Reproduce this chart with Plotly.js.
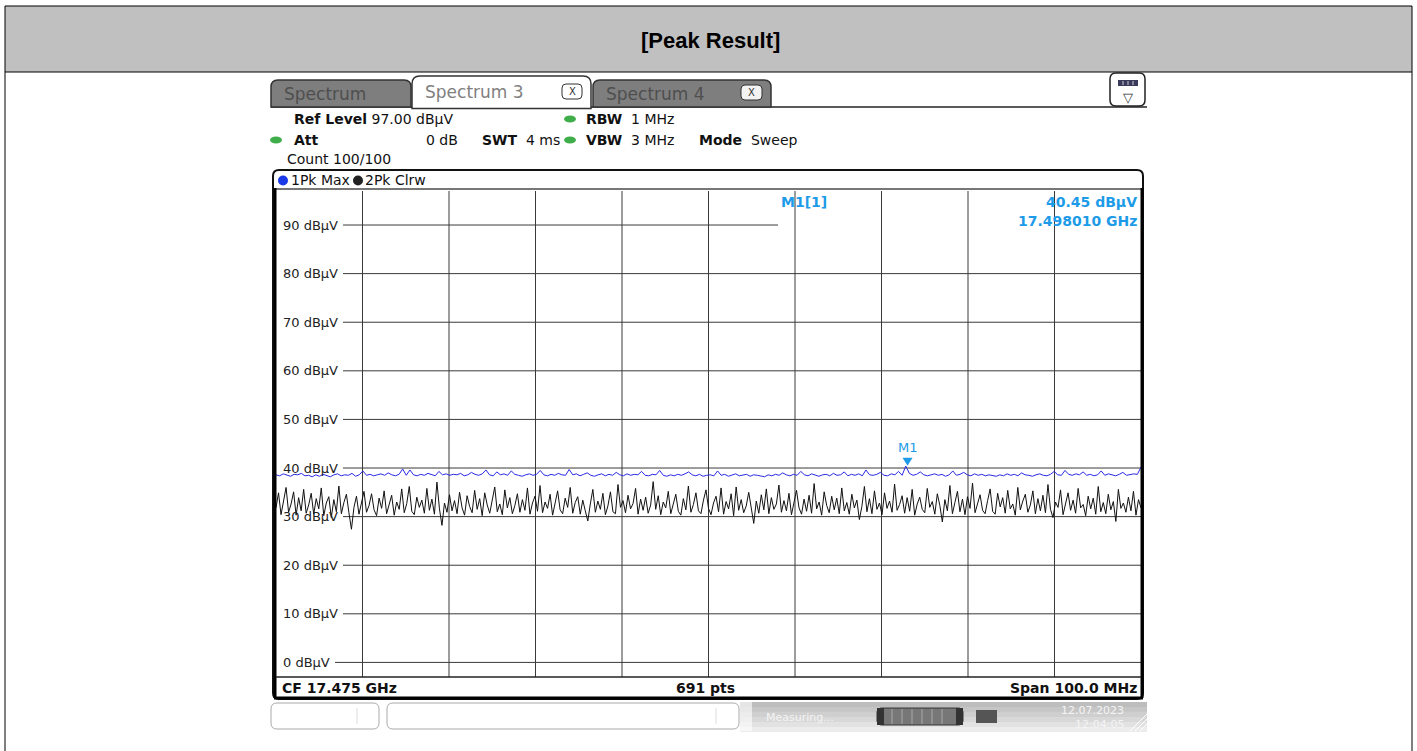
<!DOCTYPE html>
<html><head><meta charset="utf-8">
<script src="https://cdn.plot.ly/plotly-3.0.1.min.js"></script>
<style>html,body{margin:0;padding:0;background:#fff;overflow:hidden}#chart{width:1417px;height:751px}</style>
</head><body><div id="chart"></div>
<script>
// ---------------- data ----------------
const centerFreqGHz = 17.475;
const spanGHz = 0.1;
const refLevel = 97;
const bottomLevel = -3;
const levelTicks = [90, 80, 70, 60, 50, 40, 30, 20, 10, 0];
const levelTickLabels = ['90 dBµV','80 dBµV','70 dBµV','60 dBµV','50 dBµV','40 dBµV','30 dBµV','20 dBµV','10 dBµV','0 dBµV'];
const freqGridGHz = [17.435, 17.445, 17.455, 17.465, 17.475, 17.485, 17.495, 17.505, 17.515];
const markerFreqGHz = 17.498010;
const markerLevel = 40.45;

// Trace 1: 1Pk Max (blue)
const trace1PkMax = [
38.6,38.4,38.8,38.5,38.3,38.7,38.6,38.9,38.4,38.5,38.2,38.6,38.3,38.7,38.5,38.2,38.6,38.8,38.4,38.6,
38.5,38.9,38.3,38.6,39.4,38.5,38.7,38.4,38.6,38.8,38.5,39.0,38.6,38.4,38.7,39.8,38.5,39.6,38.6,38.4,
38.7,38.5,38.9,38.6,38.4,39.3,38.6,38.8,38.5,38.7,38.6,38.9,38.4,38.6,39.1,38.7,38.5,38.8,39.6,38.6,
38.4,39.2,38.6,38.8,38.5,39.4,38.7,38.5,38.3,38.6,38.8,38.5,38.7,39.5,38.6,38.4,38.7,38.5,38.9,38.6,
38.5,39.7,38.6,38.8,38.4,38.7,39.0,38.5,38.3,38.6,38.8,38.4,38.7,38.5,39.1,38.6,38.4,38.8,38.5,38.7,
38.6,39.3,38.5,38.4,38.7,38.6,39.5,38.5,38.3,38.6,38.4,38.7,38.5,38.8,39.2,38.6,38.4,38.7,38.3,38.5,
38.6,38.4,39.4,38.5,38.7,38.3,38.6,38.8,38.4,38.5,38.7,38.3,38.6,38.5,38.4,38.2,38.6,38.4,38.7,38.5,
39.0,38.6,38.4,38.7,38.5,39.3,38.6,38.4,38.8,38.5,38.3,38.6,38.7,38.4,38.9,38.5,38.6,39.2,38.4,38.7,
38.5,38.8,38.4,39.6,38.6,38.5,38.7,39.1,38.5,38.4,38.8,38.6,39.3,38.5,40.4,38.9,38.5,38.7,39.2,38.6,
38.4,38.6,38.8,38.5,38.7,38.3,38.6,39.4,38.5,38.7,39.1,38.6,38.4,38.8,38.5,38.7,38.4,38.6,38.5,38.3,
38.6,38.4,38.8,38.5,38.7,38.4,39.0,38.6,38.5,38.3,38.6,38.8,38.5,38.4,38.7,39.3,38.6,38.5,39.5,38.7,
38.5,38.8,38.6,39.2,38.5,38.7,38.4,38.6,39.4,38.5,38.8,38.6,38.4,38.7,39.1,38.5,38.6,38.8,38.7,40.2
];
// Trace 2: 2Pk Clrw (black)
const trace2PkClrw = [
31.8,34.9,30.4,33.2,36.0,30.9,32.6,35.1,30.3,33.9,31.2,35.6,30.7,32.4,34.8,
30.5,33.7,31.6,35.9,30.2,32.8,34.1,29.8,33.5,31.0,36.3,30.6,32.9,34.6,30.8,
27.4,31.9,34.2,30.5,33.1,35.2,30.9,32.3,34.7,31.4,30.2,33.8,31.7,35.3,30.6,
32.5,34.4,30.3,33.0,31.5,35.7,30.8,32.7,36.2,31.1,30.4,34.0,31.9,33.4,30.7,
35.8,31.3,33.6,30.5,37.1,31.6,28.2,32.8,30.9,34.5,31.2,33.3,30.6,35.0,31.8,
30.3,34.3,32.1,30.8,35.4,31.5,33.7,30.2,34.9,32.4,30.7,33.1,36.1,31.0,32.6,
30.4,35.5,31.8,33.9,30.6,32.3,34.7,30.9,33.5,31.3,35.9,30.5,32.8,34.2,31.1,
36.4,30.8,33.0,31.7,34.6,30.3,32.5,35.3,31.4,30.6,33.8,31.9,36.0,30.7,32.9,
34.1,30.5,33.4,31.2,29.1,32.6,35.6,30.9,33.2,31.5,34.8,30.4,32.2,35.1,31.0,
30.6,36.6,31.9,33.3,30.8,34.4,31.6,32.7,35.8,30.5,33.6,31.3,34.0,30.7,32.4,
37.2,31.5,34.3,30.4,33.0,31.8,35.2,30.6,32.9,34.6,31.1,30.3,33.7,31.4,36.3,
30.9,32.5,34.9,31.2,30.6,33.4,35.5,31.7,30.4,32.8,34.2,31.0,35.9,30.5,33.1,
31.6,34.7,30.2,36.1,31.3,33.5,30.8,32.2,35.0,31.9,28.6,33.2,30.7,34.5,31.4,
35.7,30.6,33.9,31.5,32.6,36.5,30.9,33.3,31.2,34.8,30.4,32.7,35.4,31.8,30.5,
33.6,31.1,34.4,30.7,36.8,31.6,33.0,30.3,35.1,32.3,30.8,34.2,31.4,33.8,30.6,
35.9,31.2,32.9,30.5,34.6,31.8,33.4,29.4,32.1,36.2,31.0,33.7,30.6,35.3,31.5,
32.8,30.4,34.9,31.7,33.2,30.9,36.7,31.3,32.5,34.3,30.7,33.9,31.1,35.6,30.3,
32.6,34.0,31.5,30.8,35.8,31.9,33.1,30.5,34.7,32.3,28.9,33.5,31.2,36.4,30.6,
32.9,35.2,31.0,33.6,30.4,34.1,31.7,36.9,30.8,32.7,34.5,31.3,30.6,33.3,35.7,
31.1,30.5,34.8,32.0,33.9,30.7,35.4,31.6,32.6,30.3,36.0,31.4,33.2,34.6,30.9,
32.4,35.3,30.6,33.7,31.2,34.4,30.8,36.6,31.5,29.8,33.0,31.9,35.5,30.4,32.8,
34.9,31.3,33.4,30.7,35.8,31.8,32.5,30.2,34.2,31.6,33.8,30.5,36.2,31.0,32.9,
30.6,34.6,31.4,33.1,29.0,35.6,31.7,32.8,30.9,34.0,31.2,35.2,30.3,33.5,31.8
];

// ---------------- layout helpers ----------------
const W = 1417, H = 751;
const X = p => p / W;
const Y = p => 1 - p / H;
const FONT = 'DejaVu Sans, Verdana, sans-serif';
const startF = centerFreqGHz - spanGHz / 2, stopF = centerFreqGHz + spanGHz / 2;
const freqs = n => Array.from({length: n}, (_, i) => startF + i * spanGHz / (n - 1));

const shapes = [];
const ann = [];
function rect(x0, y0, x1, y1, fill, line, lw, layer) {
  shapes.push({type: 'rect', xref: 'paper', yref: 'paper', x0: X(x0), x1: X(x1), y0: Y(y1), y1: Y(y0),
    fillcolor: fill || 'rgba(0,0,0,0)', line: {color: line || 'rgba(0,0,0,0)', width: lw || 0}, layer: layer || 'above'});
}
function line(x0, y0, x1, y1, color, lw, layer) {
  shapes.push({type: 'line', xref: 'paper', yref: 'paper', x0: X(x0), x1: X(x1), y0: Y(y0), y1: Y(y1),
    line: {color: color, width: lw}, layer: layer || 'above'});
}
function circ(cx, cy, rx, ry, fill) {
  shapes.push({type: 'circle', xref: 'paper', yref: 'paper', x0: X(cx - rx), x1: X(cx + rx), y0: Y(cy + ry), y1: Y(cy - ry),
    fillcolor: fill, line: {width: 0}, layer: 'above'});
}
function P(x, y) { return X(x) + ',' + Y(y); }
function rrect(x0, y0, x1, y1, r, fill, lc, lw, topOnly) {
  let d;
  if (topOnly) {
    d = 'M' + P(x0, y1) + ' L' + P(x0, y0 + r) + ' Q' + P(x0, y0) + ' ' + P(x0 + r, y0) + ' L' + P(x1 - r, y0) +
        ' Q' + P(x1, y0) + ' ' + P(x1, y0 + r) + ' L' + P(x1, y1);
    if (fill) d += ' Z';
  } else {
    d = 'M' + P(x0 + r, y0) + ' L' + P(x1 - r, y0) + ' Q' + P(x1, y0) + ' ' + P(x1, y0 + r) + ' L' + P(x1, y1 - r) +
        ' Q' + P(x1, y1) + ' ' + P(x1 - r, y1) + ' L' + P(x0 + r, y1) + ' Q' + P(x0, y1) + ' ' + P(x0, y1 - r) +
        ' L' + P(x0, y0 + r) + ' Q' + P(x0, y0) + ' ' + P(x0 + r, y0) + ' Z';
  }
  shapes.push({type: 'path', xref: 'paper', yref: 'paper', path: d, fillcolor: fill || 'rgba(0,0,0,0)',
    line: {color: lc || 'rgba(0,0,0,0)', width: lw || 0}, layer: 'above'});
}
function txt(x, y, text, size, color, opts) {
  opts = opts || {};
  ann.push(Object.assign({xref: 'paper', yref: 'paper', x: X(x), y: Y(y), text: text, showarrow: false,
    xanchor: 'left', yanchor: 'middle', font: {family: FONT, size: size, color: color}, borderpad: 0}, opts));
}

// ---------------- page chrome ----------------
rect(5, 6, 1412, 72, '#c0c0c0', '#000', 1);
line(5, 72, 5, 751, '#000', 1);
line(1412, 72, 1412, 751, '#000', 1);
txt(710, 40, '<b>[Peak Result]</b>', 22, '#000', {xanchor: 'center', font: {family: 'Liberation Sans, Arial, sans-serif', size: 22, color: '#000'}});

// tabs
line(271, 107, 1147, 107, '#222', 1.5);
rrect(271, 80, 411, 107, 7, '#7e7e7e', '#333', 1.5, true);
txt(283, 94, 'Spectrum', 17, '#4e4e4e');
rrect(593, 80, 771, 107, 7, '#7e7e7e', '#333', 1.5, true);
txt(605, 94, 'Spectrum 4', 17, '#4e4e4e');
rrect(741, 85, 762, 100, 4, '#f2f2f2', '#333', 1);
txt(751.5, 92.5, 'X', 10, '#333', {xanchor: 'center'});
rrect(412, 76, 591, 108.5, 8, '#ffffff', '#333', 1.5, true);
txt(424, 92, 'Spectrum 3', 17, '#808080');
rrect(562, 84, 582, 99, 4, '#ffffff', '#333', 1);
txt(572, 91.5, 'X', 10, '#333', {xanchor: 'center'});
// top-right icon
rrect(1110, 73, 1145, 106, 6, '#ffffff', '#222', 1.5);
rect(1118, 80, 1138, 86, '#3a3a5a', null, 0);
line(1123, 81, 1123, 85, '#ccc', 1); line(1128, 81, 1128, 85, '#ccc', 1); line(1133, 81, 1133, 85, '#ccc', 1);
txt(1128, 97, '▽', 13, '#333', {xanchor: 'center'});

// info area
txt(293, 119, '<b>Ref Level</b> 97.00 dBµV', 14, '#111');
circ(570, 119, 6, 3.5, '#3fae4a');
txt(585, 119, '<b>RBW</b>  1 MHz', 14, '#111');
circ(276, 140, 6, 3.5, '#3fae4a');
txt(293, 140, '<b>Att</b>', 14, '#111');
txt(425, 140, '0 dB', 14, '#111');
txt(481, 140, '<b>SWT</b>  4 ms', 14, '#111');
circ(570, 140, 6, 3.5, '#3fae4a');
txt(585, 140, '<b>VBW</b>  3 MHz', 14, '#111');
txt(698, 140, '<b>Mode</b>  Sweep', 14, '#111');
txt(286, 159, 'Count 100/100', 14, '#111');

// diagram frame
rrect(273, 170, 1143, 699, 6, null, '#111', 2);
line(275, 189, 1141, 189, '#777', 2);
line(275, 188, 275, 698, '#000', 3);
line(1142, 188, 1142, 698, '#000', 3);
line(274, 698, 1143, 698, '#000', 3);
line(276, 677, 1141, 677, '#222', 1.5);
circ(283, 180.5, 5, 5, '#1a3ae8');
txt(290, 180, '1Pk Max', 14, '#111');
circ(358, 180.5, 5, 5, '#222');
txt(364, 180, '2Pk Clrw', 14, '#111');

// grid (drawn under traces)
freqGridGHz.forEach(f => {
  shapes.push({type: 'line', xref: 'x', yref: 'y', x0: f, x1: f, y0: bottomLevel, y1: refLevel,
    line: {color: '#3a3a3a', width: 1}, layer: 'below'});
});
levelTicks.forEach((v, i) => {
  const startPx = v === 0 ? 335 : 343;
  shapes.push({type: 'line', xref: 'paper', yref: 'y', x0: X(startPx), x1: X(1141), y0: v, y1: v,
    line: {color: '#3a3a3a', width: 1}, layer: 'below'});
  ann.push({xref: 'paper', yref: 'y', x: X(281), y: v, text: levelTickLabels[i], showarrow: false,
    xanchor: 'left', yanchor: 'middle', font: {family: FONT, size: 13, color: '#222'}});
});
// marker info box covering grid
shapes.push({type: 'rect', xref: 'paper', yref: 'paper', x0: X(778), x1: X(1141), y0: Y(231), y1: Y(190),
  fillcolor: '#ffffff', line: {width: 0}, layer: 'below'});
const mColor = '#1d9be8';
txt(780, 202, '<b>M1[1]</b>', 14, mColor);
txt(1138, 202, '<b>' + markerLevel.toFixed(2) + ' dBµV</b>', 14, mColor, {xanchor: 'right'});
txt(1138, 221, '<b>' + markerFreqGHz.toFixed(6) + ' GHz</b>', 14, mColor, {xanchor: 'right'});
// marker triangle (pixel-sized path anchored at the marker position)
shapes.push({type: 'path', xref: 'x', yref: 'y', xsizemode: 'pixel', ysizemode: 'pixel',
  xanchor: markerFreqGHz, yanchor: markerLevel, path: 'M -5,8 L 5,8 L 0,0 Z',
  fillcolor: mColor, line: {width: 0}, layer: 'above'});
ann.push({xref: 'x', yref: 'y', x: markerFreqGHz, y: markerLevel, text: 'M1', showarrow: false,
  xanchor: 'center', yanchor: 'bottom', yshift: 9, font: {family: FONT, size: 13, color: mColor}});

// bottom row
txt(281, 688, '<b>CF ' + centerFreqGHz.toFixed(3) + ' GHz</b>', 14, '#111');
txt(705, 688, '<b>691 pts</b>', 14, '#111', {xanchor: 'center'});
txt(1138, 688, '<b>Span ' + (spanGHz * 1000).toFixed(1) + ' MHz</b>', 14, '#111', {xanchor: 'right'});

// status bar
rrect(271, 703, 379, 729, 6, '#ffffff', '#aaa', 1);
line(357, 708, 357, 724, '#ddd', 1);
rrect(387, 703, 739, 729, 6, '#ffffff', '#aaa', 1);
line(716, 708, 716, 724, '#ddd', 1);
const bands = ['#bdbdbd', '#c6c6c6', '#cfcfcf', '#d8d8d8', '#e2e2e2', '#ececec'];
bands.forEach((c, i) => rect(740, 702 + i * 5, 1147, 707 + i * 5, c, null, 0));
rect(740, 702, 752, 731, 'rgba(255,255,255,0.6)', null, 0);
txt(765, 717, 'Measuring...', 11, '#f4f4f4');
rrect(877, 708, 963, 725, 4, '#777', '#333', 1);
rect(877, 708, 884, 725, '#333', null, 0);
rect(956, 708, 963, 725, '#333', null, 0);
[892, 902, 912, 922, 932, 942].forEach(xx => line(xx, 709, xx, 724, '#aaa', 1));
rect(976, 710, 997, 723, '#555', null, 0);
txt(1125, 710, '12.07.2023', 11, '#f4f4f4', {xanchor: 'right'});
txt(1125, 724, '12:04:05', 11, '#f4f4f4', {xanchor: 'right'});
[0, 5, 10].forEach(d => line(1130 + d, 731, 1147, 714 + d, '#fff', 1));

// ---------------- traces ----------------
const data = [
  {type: 'scatter', mode: 'lines', x: freqs(trace1PkMax.length), y: trace1PkMax, name: '1Pk Max',
   line: {color: '#2a2ae6', width: 1}, hoverinfo: 'skip'},
  {type: 'scatter', mode: 'lines', x: freqs(trace2PkClrw.length), y: trace2PkClrw, name: '2Pk Clrw',
   line: {color: '#111111', width: 1}, hoverinfo: 'skip'}
];

const layout = {
  width: W, height: H, margin: {l: 0, r: 0, t: 0, b: 0},
  paper_bgcolor: '#ffffff', plot_bgcolor: 'rgba(0,0,0,0)', showlegend: false,
  xaxis: {domain: [X(276), X(1141)], range: [startF, stopF], visible: false, fixedrange: true},
  yaxis: {domain: [Y(677), Y(191)], range: [bottomLevel, refLevel], visible: false, fixedrange: true},
  shapes: shapes, annotations: ann
};
Plotly.newPlot('chart', data, layout, {staticPlot: true, displayModeBar: false});
</script></body></html>
